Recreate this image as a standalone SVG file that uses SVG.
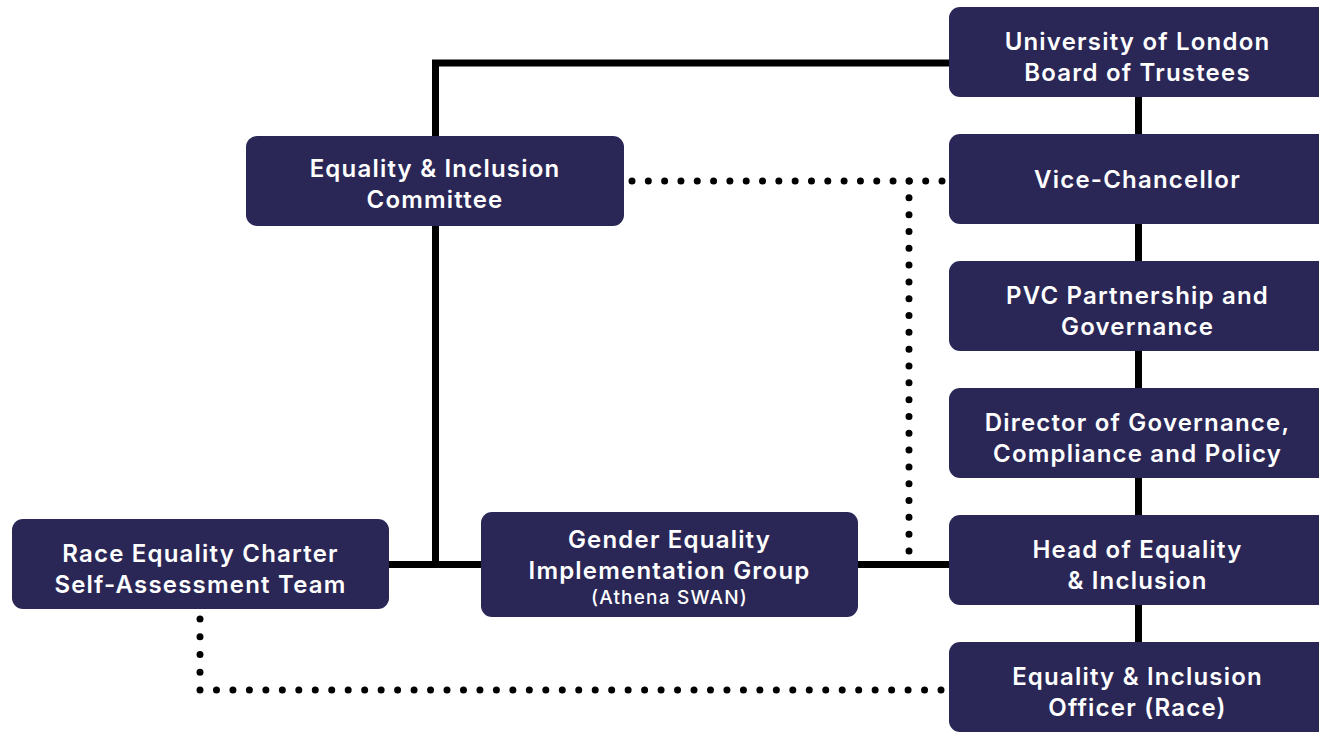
<svg xmlns="http://www.w3.org/2000/svg" width="1319" height="732" viewBox="0 0 1319 732">
  <style>
    .box { fill: #2a2757; }
    .label { font-family: "Inter", "Liberation Sans", sans-serif; font-size: 24px; font-weight: 600; letter-spacing: 1.2px; fill: #ffffff; text-anchor: middle; }
    .sub { font-size: 19px; font-weight: 500; }
    .solid { fill: none; stroke: #000000; stroke-width: 7; }
    .dotted { fill: none; stroke: #000000; stroke-width: 7; stroke-linecap: round; }
  </style>
  <rect width="1319" height="732" fill="#ffffff"/>

  <!-- reporting lines (solid) and informal links (dotted) -->
  <g id="connectors">
    <path class="solid" d="M435.5,136 V63 H950"/>
    <path class="solid" d="M435.5,225 V564.5"/>
    <path class="solid" d="M388,564.5 H482"/>
    <path class="solid" d="M856,564.5 H950"/>
    <path class="solid" d="M1138.5,96 V643"/>
    <path class="dotted" d="M632,181 H942.5" stroke-dasharray="0 16.316"/>
    <path class="dotted" d="M909,181 V551.5" stroke-dasharray="0 16.818"/>
    <path class="dotted" d="M200,619 V690" stroke-dasharray="0 17.75"/>
    <path class="dotted" d="M200,690 H941.5" stroke-dasharray="0 16.467"/>
  </g>

  <g id="board">
    <rect class="box" x="949" y="7" width="380" height="90" rx="11"/>
    <text class="label" x="1137.5" y="49.5">University of London</text>
    <text class="label" x="1137.5" y="80.5">Board of Trustees</text>
  </g>
  <g id="vice-chancellor">
    <rect class="box" x="949" y="134" width="380" height="90" rx="11"/>
    <text class="label" x="1137.5" y="188">Vice-Chancellor</text>
  </g>
  <g id="pvc">
    <rect class="box" x="949" y="261" width="380" height="90" rx="11"/>
    <text class="label" x="1137.5" y="303.5">PVC Partnership and</text>
    <text class="label" x="1137.5" y="334.5">Governance</text>
  </g>
  <g id="director">
    <rect class="box" x="949" y="388" width="380" height="90" rx="11"/>
    <text class="label" x="1137.5" y="430.5">Director of Governance,</text>
    <text class="label" x="1137.5" y="461.5">Compliance and Policy</text>
  </g>
  <g id="head-ei">
    <rect class="box" x="949" y="515" width="380" height="90" rx="11"/>
    <text class="label" x="1137.5" y="557.5">Head of Equality</text>
    <text class="label" x="1137.5" y="588.5">&amp; Inclusion</text>
  </g>
  <g id="ei-officer">
    <rect class="box" x="949" y="642" width="380" height="90" rx="11"/>
    <text class="label" x="1137.5" y="684.5">Equality &amp; Inclusion</text>
    <text class="label" x="1137.5" y="715.5">Officer (Race)</text>
  </g>
  <g id="ei-committee">
    <rect class="box" x="246" y="136" width="378" height="90" rx="11"/>
    <text class="label" x="435" y="177">Equality &amp; Inclusion</text>
    <text class="label" x="435" y="208">Committee</text>
  </g>
  <g id="gender-group">
    <rect class="box" x="481" y="512" width="377" height="105" rx="11"/>
    <text class="label" x="669.5" y="547.5">Gender Equality</text>
    <text class="label" x="669.5" y="578.5">Implementation Group</text>
    <text class="label sub" x="669.5" y="603.5">(Athena SWAN)</text>
  </g>
  <g id="race-charter">
    <rect class="box" x="12" y="519" width="377" height="90" rx="11"/>
    <text class="label" x="200.5" y="561.5">Race Equality Charter</text>
    <text class="label" x="200.5" y="592.5">Self-Assessment Team</text>
  </g>
</svg>
